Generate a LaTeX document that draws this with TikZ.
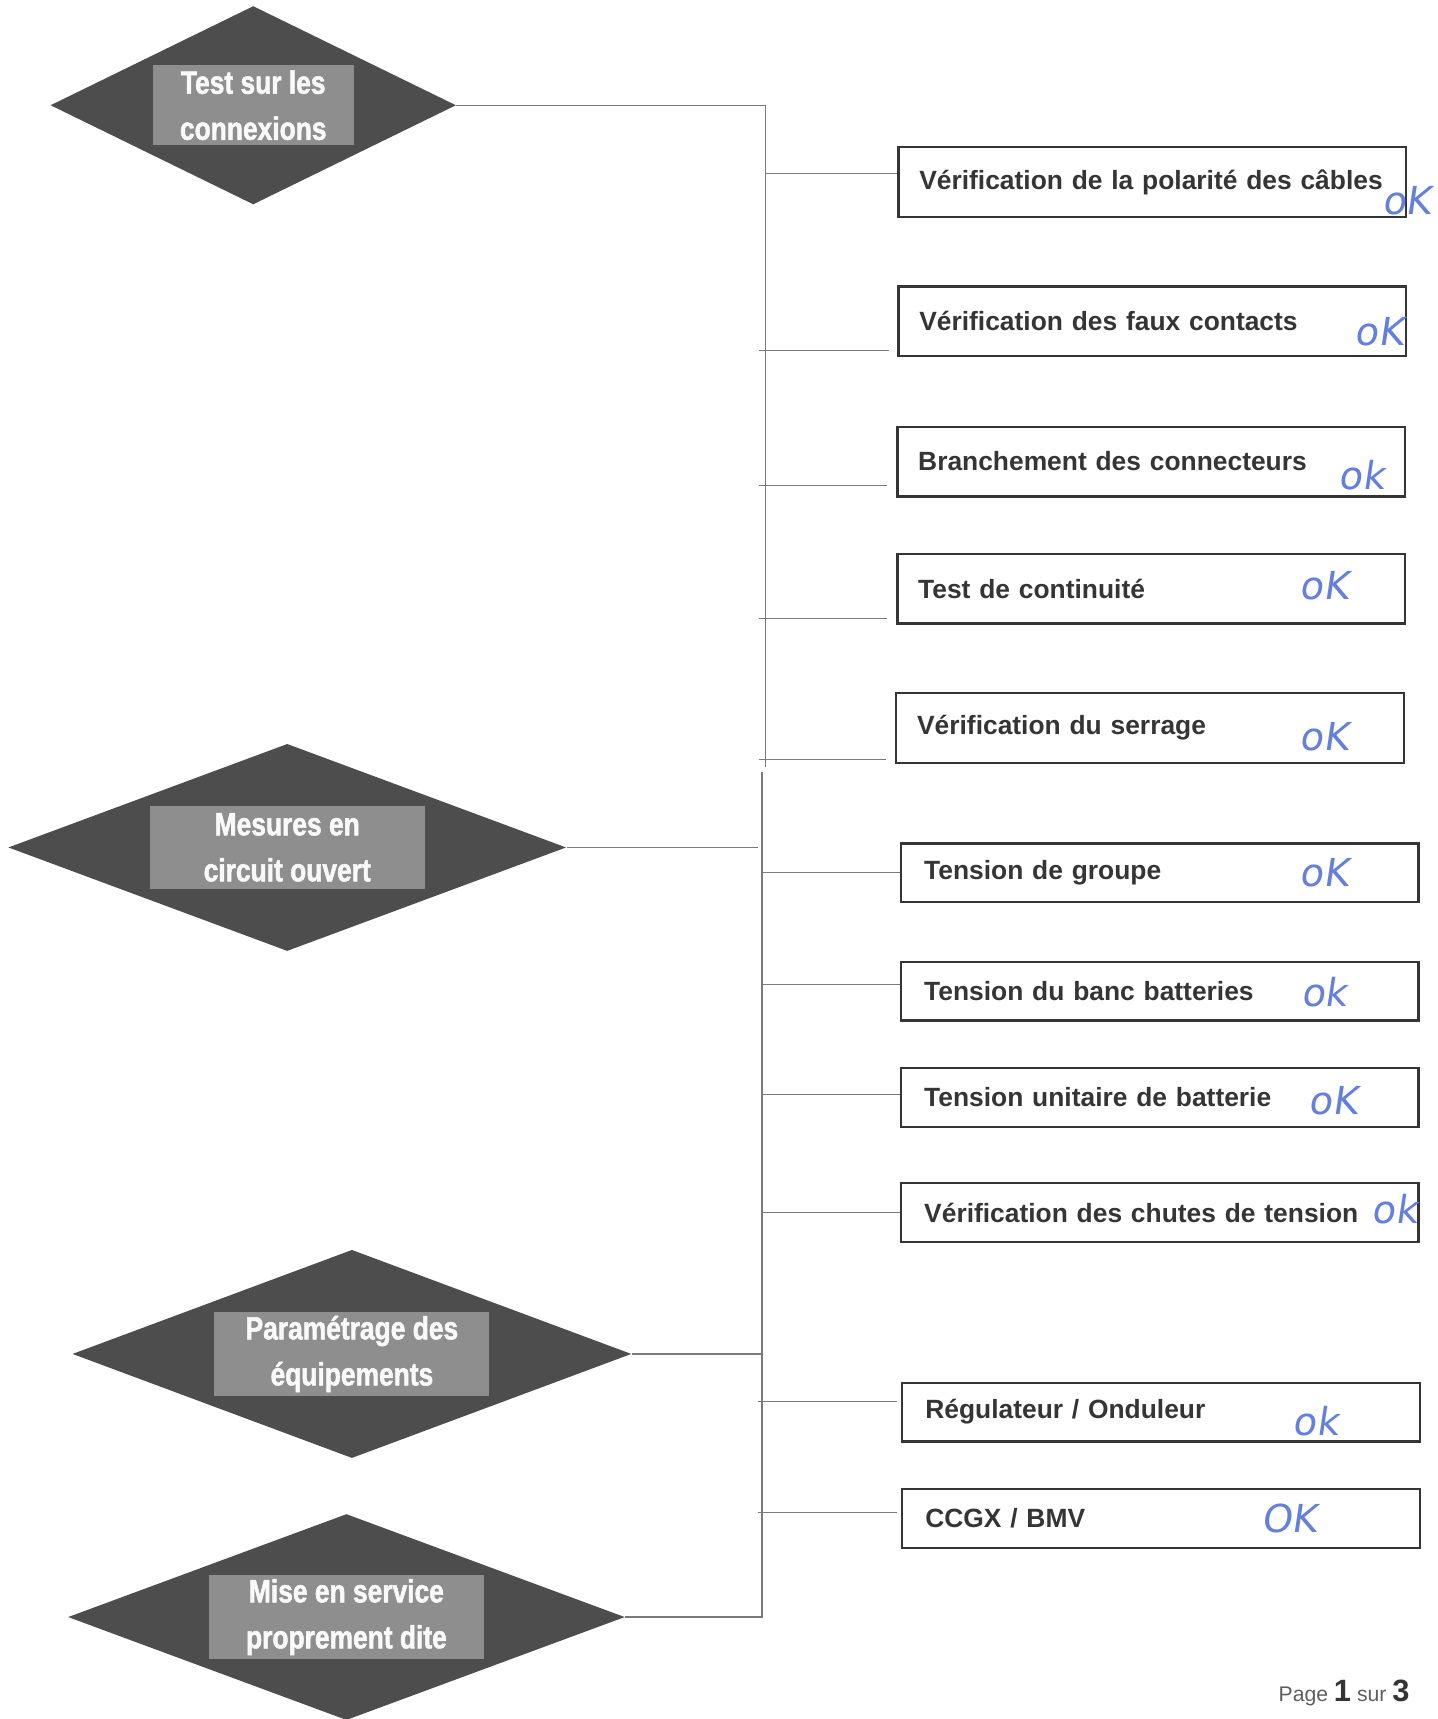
\documentclass[tikz,border=0pt]{standalone}
\usepackage{fontspec}
\setmainfont{Liberation Sans}
\newfontfamily\narrowfont[FakeStretch=0.82, BoldFeatures={FakeBold=1.6}]{Liberation Sans}
\newfontfamily\handfont[FakeSlant=0.15]{DejaVu Sans}
\usepackage{tikz}
\usetikzlibrary{shapes.geometric,positioning,calc}
\definecolor{phasegray}{HTML}{4D4D4D}
\definecolor{labelgray}{HTML}{8E8E8E}
\definecolor{textgray}{HTML}{353535}
\definecolor{linegray}{HTML}{7A7A7A}
\definecolor{pagegray}{HTML}{5E5E5E}
\definecolor{inkblue}{HTML}{6580DC}
\tikzset{
phase/.style = {fill=phasegray, diamond, inner sep=0pt},
phaselabel/.style = {fill=labelgray, rectangle, inner sep=0pt, minimum width=5.02cm, minimum height=1.52cm, align=center, text=white!95!gray, font=\narrowfont\bfseries\fontsize{16.7}{23.9}\selectfont, execute at begin node={\rule{0pt}{16.8pt}}},
taskA/.style = {draw=textgray, line width=1.2pt, fill=white, rectangle, inner xsep=0.38cm, inner ysep=0pt, text width=8.5cm, minimum height=1.27cm, align=left, text=textgray, font=\bfseries\fontsize{13.7}{16}\selectfont},
taskB/.style = {taskA, inner xsep=0.42cm, text width=8.6cm, minimum height=1.07cm},
okmark/.style = {text=inkblue, inner sep=0pt, font=\handfont\fontsize{20}{20}\selectfont},
link/.style = {draw=linegray, line width=0.6pt},
tmp/.style = {coordinate}
}
\begin{document}
\begin{tikzpicture}[x=0.02cm, y=-0.02cm]
	\useasboundingbox (0,0) rectangle (1311,1568);
	\node[phase, minimum width=7.4cm, minimum height=3.62cm] (conn) at (231,96) {};
	\node[phaselabel, minimum width=3.66cm, minimum height=1.46cm] (connlbl) at (conn) {Test sur les\\connexions};
	\node[phase, minimum width=10.18cm, minimum height=3.78cm] (mesure) at (262,773) {};
	\node[phaselabel] (mesurelbl) at (mesure) {Mesures en\\circuit ouvert};
	\node[phase, minimum width=10.2cm, minimum height=3.8cm] (param) at (321,1235) {};
	\node[phaselabel] (paramlbl) at (param) {Paramétrage des\\équipements};
	\node[phase, minimum width=10.16cm, minimum height=3.76cm] (service) at (316,1475) {};
	\node[phaselabel] (servicelbl) at (service) {Mise en service\\proprement dite};
	\node[taskA] (pol) at (1051,166) {Vérification de la polarité des câbles};
	\node[taskA] (faux) at (1051,293) {Vérification des faux contacts};
	\node[taskA] (branch) at (1050,421) {Branchement des connecteurs};
	\node[taskA] (cont) at (1050,537) {Test de continuité};
	\node[taskA] (serrage) at (1049,664) {Vérification du serrage};
	\node[taskB] (groupe) at (1058,796) {Tension de groupe};
	\node[taskB] (banc) at (1058,904) {Tension du banc batteries};
	\node[taskB] (unit) at (1058,1001) {Tension unitaire de batterie};
	\node[taskB] (chute) at (1058,1106) {Vérification des chutes de tension};
	\node[taskB] (regul) at (1059,1288) {Régulateur / Onduleur};
	\node[taskB] (ccgx) at (1059,1385) {CCGX / BMV};
	\node[okmark] (okpol) at (1283,183) {oK};
	\node[okmark] (okfaux) at (1258,303) {oK};
	\node[okmark] (okbranch) at (1242,433) {ok};
	\node[okmark] (okcont) at (1208,534) {oK};
	\node[okmark] (okserrage) at (1208,672) {oK};
	\node[okmark] (okgroupe) at (1208,796) {oK};
	\node[okmark] (okbanc) at (1208,905) {ok};
	\node[okmark] (okunit) at (1216,1004) {oK};
	\node[okmark] (okchute) at (1272,1103) {ok};
	\node[okmark] (okregul) at (1200,1296) {ok};
	\node[okmark] (okccgx) at (1176,1385) {OK};
	\node[anchor=base east, inner sep=0pt, text=pagegray, font=\fontsize{11}{13}\selectfont] (page) at (1286,1552) {Page {\color{textgray}\bfseries\fontsize{16}{18}\selectfont 1} sur {\color{textgray}\bfseries\fontsize{16}{18}\selectfont 3}};
	\node[tmp] (endA) at (698,700) {};
	\node[tmp] (topB) at (695,704) {};
	\draw[link] (conn.east) -| (endA);
	\draw[link] (service.east) -| (topB);
	\draw[link, shorten >=0.08cm] (mesure.east) -- (mesure.east -| topB);
	\draw[link] (param.east) -- (param.east -| topB);
	\node[tmp] (jpol) at (698,158) {};
	\node[tmp] (jfaux) at (692,320) {};
	\node[tmp] (jbranch) at (692,443) {};
	\node[tmp] (jcont) at (692,564) {};
	\node[tmp] (jserrage) at (692,693) {};
	\node[tmp] (jgroupe) at (695,796) {};
	\node[tmp] (jbanc) at (695,898) {};
	\node[tmp] (junit) at (695,998) {};
	\node[tmp] (jchute) at (695,1106) {};
	\node[tmp] (jregul) at (691,1278) {};
	\node[tmp] (jccgx) at (691,1380) {};
	\draw[link] (jpol) -- (jpol -| pol.west);
	\draw[link, shorten >=0.16cm] (jfaux) -- (jfaux -| faux.west);
	\draw[link, shorten >=0.16cm] (jbranch) -- (jbranch -| branch.west);
	\draw[link, shorten >=0.16cm] (jcont) -- (jcont -| cont.west);
	\draw[link, shorten >=0.16cm] (jserrage) -- (jserrage -| serrage.west);
	\draw[link] (jgroupe) -- (jgroupe -| groupe.west);
	\draw[link] (jbanc) -- (jbanc -| banc.west);
	\draw[link] (junit) -- (junit -| unit.west);
	\draw[link] (jchute) -- (jchute -| chute.west);
	\draw[link, shorten >=0.08cm] (jregul) -- (jregul -| regul.west);
	\draw[link, shorten >=0.08cm] (jccgx) -- (jccgx -| ccgx.west);
\end{tikzpicture}
\end{document}
